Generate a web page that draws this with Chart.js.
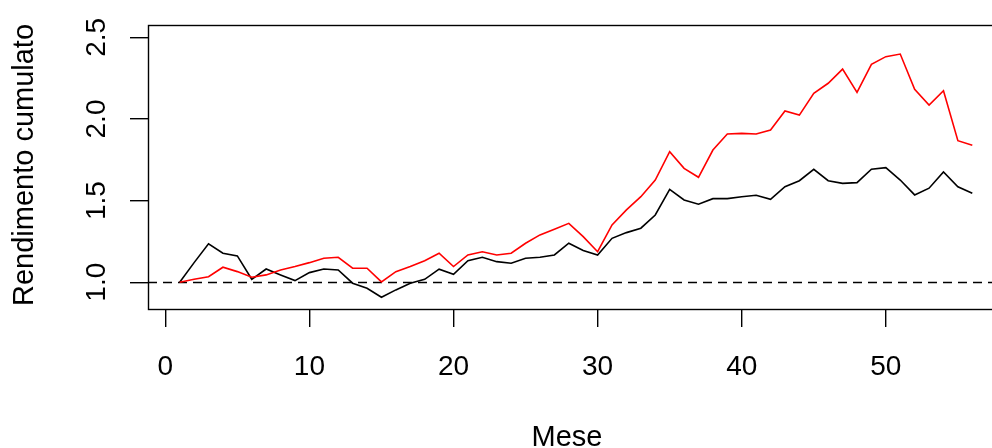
<!DOCTYPE html>
<html>
<head>
<meta charset="utf-8">
<script src="https://cdn.jsdelivr.net/npm/chart.js@4/dist/chart.umd.min.js"></script>
<style>
  html, body { margin: 0; padding: 0; background: #fff; overflow: hidden; }
  #wrap { width: 1010px; height: 448px; }
</style>
</head>
<body>
<div id="wrap"><canvas id="c" width="1010" height="448"></canvas></div>
<script>
// Mesi di osservazione
const mesi = [1, 2, 3, 4, 5, 6, 7, 8, 9, 10, 11, 12, 13, 14, 15, 16, 17, 18, 19, 20,
  21, 22, 23, 24, 25, 26, 27, 28, 29, 30, 31, 32, 33, 34, 35, 36, 37, 38, 39, 40,
  41, 42, 43, 44, 45, 46, 47, 48, 49, 50, 51, 52, 53, 54, 55, 56];

// Rendimento cumulato del portafoglio (linea rossa)
const portafoglio = [1.000, 1.018, 1.034, 1.092, 1.065, 1.031, 1.045, 1.075, 1.096, 1.120,
  1.147, 1.153, 1.086, 1.086, 1.002, 1.065, 1.096, 1.132, 1.178, 1.096,
  1.167, 1.187, 1.167, 1.178, 1.239, 1.290, 1.325, 1.361, 1.279, 1.187,
  1.351, 1.443, 1.524, 1.626, 1.800, 1.698, 1.643, 1.810, 1.908, 1.912,
  1.908, 1.933, 2.049, 2.024, 2.157, 2.219, 2.306, 2.163, 2.335, 2.382,
  2.398, 2.182, 2.086, 2.173, 1.867, 1.839];

// Rendimento cumulato del benchmark (linea nera)
const benchmark = [1.000, 1.120, 1.235, 1.178, 1.161, 1.018, 1.081, 1.045, 1.010, 1.059,
  1.081, 1.075, 0.994, 0.963, 0.908, 0.953, 0.994, 1.018, 1.080, 1.049,
  1.132, 1.153, 1.126, 1.116, 1.147, 1.153, 1.167, 1.239, 1.194, 1.167,
  1.269, 1.304, 1.331, 1.412, 1.569, 1.504, 1.478, 1.512, 1.512, 1.524,
  1.533, 1.508, 1.585, 1.622, 1.692, 1.622, 1.606, 1.610, 1.692, 1.702,
  1.626, 1.535, 1.576, 1.676, 1.585, 1.545];

// Etichette degli assi
const tickX = [0, 10, 20, 30, 40, 50];
const tickY = [1.0, 1.5, 2.0, 2.5];
const livelloRiferimento = 1;

const FONT = '"Liberation Sans", Arial, sans-serif';

const toPoints = (ys) => mesi.map((m, i) => ({ x: m, y: ys[i] }));

// Box, linea di riferimento tratteggiata ed etichette in stile grafico base
const stileBase = {
  id: 'stileBase',
  beforeDatasetsDraw(chart) {
    const { ctx, chartArea: a, scales: { y } } = chart;
    const py = Math.round(y.getPixelForValue(livelloRiferimento)) + 0.5;
    ctx.save();
    ctx.strokeStyle = '#000';
    ctx.lineWidth = 1.4;
    ctx.setLineDash([9, 6]);
    ctx.beginPath();
    ctx.moveTo(a.left, py);
    ctx.lineTo(a.right, py);
    ctx.stroke();
    ctx.restore();
  },
  afterDraw(chart) {
    const { ctx, chartArea: a, scales: { x, y } } = chart;
    ctx.save();
    ctx.strokeStyle = '#000';
    ctx.lineWidth = 1.4;
    ctx.strokeRect(a.left + 0.5, a.top + 0.5, a.right - a.left, a.bottom - a.top);

    ctx.fillStyle = '#000';
    ctx.font = '28px ' + FONT;
    // etichette asse x
    ctx.textAlign = 'center';
    ctx.textBaseline = 'alphabetic';
    x.ticks.forEach(t => {
      ctx.fillText(String(t.value), x.getPixelForValue(t.value), 375);
    });
    // etichette asse y, ruotate
    y.ticks.forEach(t => {
      ctx.save();
      ctx.translate(105, y.getPixelForValue(t.value));
      ctx.rotate(-Math.PI / 2);
      ctx.textAlign = 'center';
      ctx.textBaseline = 'alphabetic';
      ctx.fillText(t.value.toFixed(1), 0, 0);
      ctx.restore();
    });
    // titoli degli assi
    ctx.font = '29px ' + FONT;
    ctx.textAlign = 'center';
    ctx.fillText('Mese', 567, 446);
    ctx.save();
    ctx.translate(33, (a.top + a.bottom) / 2 - 2);
    ctx.rotate(-Math.PI / 2);
    ctx.fillText('Rendimento cumulato', 0, 0);
    ctx.restore();
    ctx.restore();
  }
};

new Chart(document.getElementById('c'), {
  type: 'line',
  data: {
    datasets: [
      {
        label: 'Portafoglio',
        data: toPoints(portafoglio),
        borderColor: '#ff0000',
        borderWidth: 1.6,
        order: 0
      },
      {
        label: 'Benchmark',
        data: toPoints(benchmark),
        borderColor: '#000000',
        borderWidth: 1.6,
        order: 1
      }
    ]
  },
  options: {
    responsive: false,
    animation: false,
    events: [],
    layout: { padding: { top: 25, right: 6, left: 0, bottom: 0 } },
    elements: { point: { radius: 0 }, line: { tension: 0 } },
    plugins: { legend: { display: false }, tooltip: { enabled: false } },
    scales: {
      x: {
        type: 'linear',
        min: -1.2,
        max: 58.2,
        border: { display: false },
        grid: { display: true, drawOnChartArea: false, drawTicks: true, tickLength: 18, color: '#000', lineWidth: 1.4 },
        ticks: { display: false },
        afterBuildTicks: s => { s.ticks = tickX.map(v => ({ value: v })); },
        afterFit: s => { s.height = 139; }
      },
      y: {
        type: 'linear',
        min: 0.836,
        max: 2.576,
        border: { display: false },
        grid: { display: true, drawOnChartArea: false, drawTicks: true, tickLength: 18, color: '#000', lineWidth: 1.4 },
        ticks: { display: false },
        afterBuildTicks: s => { s.ticks = tickY.map(v => ({ value: v })); },
        afterFit: s => { s.width = 148; }
      }
    }
  },
  plugins: [stileBase]
});
</script>
</body>
</html>
